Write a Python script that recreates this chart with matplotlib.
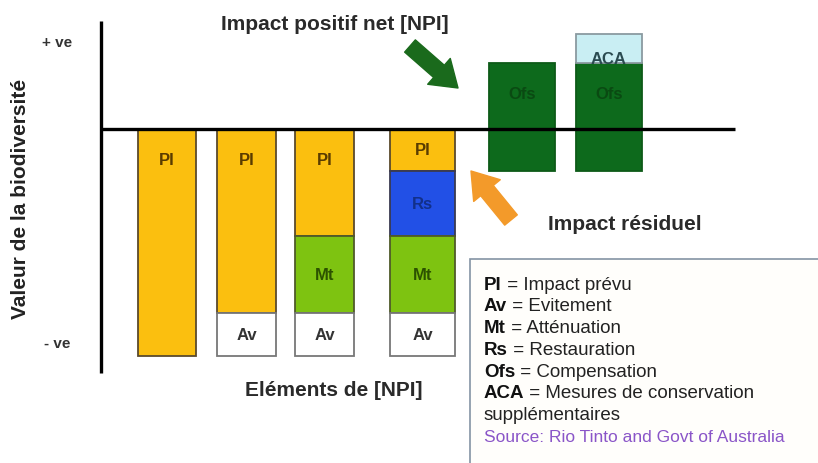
import matplotlib.pyplot as plt
from matplotlib.patches import FancyArrowPatch, Rectangle

plt.rcParams["font.family"] = ["Liberation Sans", "DejaVu Sans"]

# Valeurs (unités arbitraires, 0 = ligne de base, négatif = perte)
impact_prevu = [10.0, 8.1, 4.7, 1.85, 0, 0]      # PI
evitement = [0, 1.9, 1.9, 1.9, 0, 0]             # Av
attenuation = [0, 0, 3.4, 3.4, 0, 0]             # Mt
restauration = [0, 0, 0, 2.85, 0, 0]             # Rs
compensation = [0, 0, 0, 0, 4.75, 4.75]          # Ofs
conservation_supp = [0, 0, 0, 0, 0, 1.3]         # ACA

legende = [
    ("PI", "Impact prévu"),
    ("Av", "Evitement"),
    ("Mt", "Atténuation"),
    ("Rs", "Restauration"),
    ("Ofs", "Compensation"),
    ("ACA", "Mesures de conservation"),
]

# mise en page (pixels en x, unités en y)
x_pos = [167, 246.5, 324.5, 422.5, 522, 609]
largeurs = [58, 59, 59, 65, 66, 66]
S = 22.7  # pixels par unité

couleurs = {
    "PI": ("#FBBF0F", "#5a4a2c", "#5a3c00"),
    "Rs": ("#2250E6", "#3a3a50", "#12308a"),
    "Mt": ("#7EC311", "#4f5a2a", "#2c5200"),
    "Av": ("#FFFFFF", "#777777", "#333333"),
    "Ofs": ("#0D6A1C", "#0d5a18", "#0a4a12"),
    "ACA": ("#C9EEF3", "#8a9aa0", "#2a4a50"),
}

fig = plt.figure(figsize=(8.18, 4.64), dpi=100)
ax = fig.add_axes([0, 0, 1, 1])
ax.set_xlim(0, 818)
ax.set_ylim(-(464 - 130) / S, 130 / S)
ax.axis("off")


def segment(x, w, bas, h, code):
    fc, ec, tc = couleurs[code]
    ax.bar(x, h, width=w, bottom=bas, color=fc, edgecolor=ec,
           linewidth=1.3, zorder=2)
    haut = bas + h
    ty = haut - 1.35 if h > 4 else bas + h / 2
    if code == "ACA":
        ty = bas + 0.2
    ax.text(x, ty, code, ha="center", va="center", fontsize=12,
            fontweight="bold", color=tc, zorder=4)


# barres négatives (empilées vers le bas)
for i in range(6):
    y = 0
    for code, serie in [("PI", impact_prevu), ("Rs", restauration),
                        ("Mt", attenuation), ("Av", evitement)]:
        h = serie[i]
        if h > 0:
            segment(x_pos[i], largeurs[i], y - h, h, code)
            y -= h

# compensation + mesures supplémentaires
residuel = impact_prevu[3]
for i in range(6):
    if compensation[i] > 0:
        bas = -residuel
        segment(x_pos[i], largeurs[i], bas, compensation[i], "Ofs")
        if conservation_supp[i] > 0:
            segment(x_pos[i], largeurs[i], bas + compensation[i],
                    conservation_supp[i], "ACA")

# axes
ax.plot([100, 735], [0, 0], color="black", lw=2.4, zorder=3,
        solid_capstyle="butt")
ax.plot([101, 101], [(130 - 22) / S, (130 - 374) / S], color="black",
        lw=2.4, zorder=3, solid_capstyle="butt")

ax.text(57, (130 - 43) / S, "+ ve", ha="center", va="center",
        fontsize=11, fontweight="bold", color="#333333")
ax.text(57, (130 - 344) / S, "- ve", ha="center", va="center",
        fontsize=11, fontweight="bold", color="#333333")
ax.text(21, (130 - 199) / S, "Valeur de la biodiversité", rotation=90,
        ha="center", va="center", fontsize=15, fontweight="bold",
        color="#222222")

ax.text(335, (130 - 25) / S, "Impact positif net [NPI]", ha="center",
        va="center", fontsize=15, fontweight="bold", color="#2a2a2a")
ax.text(334, (130 - 391) / S, "Eléments de [NPI]", ha="center",
        va="center", fontsize=15, fontweight="bold", color="#2a2a2a")
ax.text(625, (130 - 224) / S, "Impact résiduel", ha="center",
        va="center", fontsize=15, fontweight="bold", color="#2a2a2a")

# flèches
for (x0, y0), (x1, y1), c in [((410, 47), (458, 89), "#1a6a1c"),
                              ((511, 221), (471, 172), "#F39A2A")]:
    ax.add_patch(FancyArrowPatch(
        (x0, (130 - y0) / S), (x1, (130 - y1) / S),
        arrowstyle="simple,head_length=1.4,head_width=1.9,tail_width=0.9",
        mutation_scale=13, color=c, zorder=5, shrinkA=0, shrinkB=0))

# encadré de légende
ax.add_patch(Rectangle((470, (130 - 470) / S), 360, 210 / S,
                       facecolor="#fffefb", edgecolor="#8494a4",
                       lw=1.2, zorder=1))
for k, (abbr, desc) in enumerate(legende):
    yl = (130 - (285 + 21.8 * k)) / S
    t = ax.text(484, yl, abbr, ha="left", va="center", fontsize=13.5,
                fontweight="bold", color="#111111", zorder=6)
    ax.annotate(" = " + desc, xy=(1, 0), xycoords=t, ha="left",
                va="bottom", fontsize=13.5, color="#222222", zorder=6)
ax.text(484, (130 - (285 + 21.8 * 6)) / S, "supplémentaires", ha="left",
        va="center", fontsize=13.5, color="#222222", zorder=6)
ax.text(484, (130 - (285 + 21.8 * 7)) / S,
        "Source: Rio Tinto and Govt of Australia", ha="left",
        va="center", fontsize=12.5, color="#8a55c8", zorder=6)

fig.savefig("out.png", dpi=100, facecolor="white")
